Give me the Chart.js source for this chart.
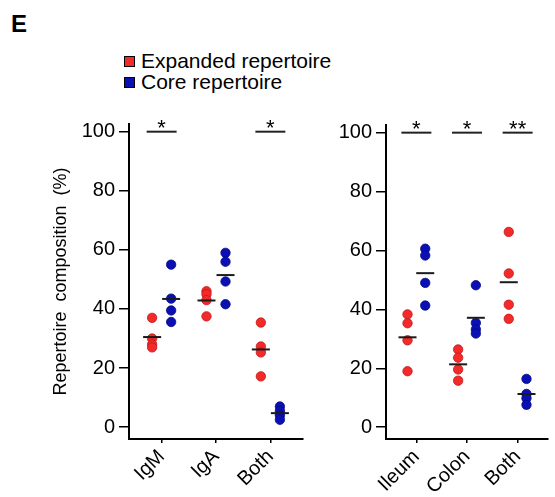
<!DOCTYPE html>
<html>
<head>
<meta charset="utf-8">
<script src="https://cdn.jsdelivr.net/npm/chart.js@4.4.0/dist/chart.umd.min.js"></script>
<style>
  html, body { margin: 0; padding: 0; background: #fff; overflow: hidden; width: 555px; height: 497px; }
  body { position: relative; font-family: "Liberation Sans", Arial, sans-serif; color: #000; }
  #panelLabel { position: absolute; left: 11px; top: 12px; font-size: 24px; font-weight: bold; line-height: 24px; }
  .box { position: absolute; left: 124px; width: 11px; height: 11px; box-sizing: border-box; border: 1px solid #000; }
  .legText { position: absolute; left: 141px; font-size: 21px; line-height: 22px; white-space: nowrap; }
  #leftWrap { position: absolute; left: 0; top: 0; }
  #rightWrap { position: absolute; left: 320px; top: 0; }
</style>
</head>
<body>
<div id="panelLabel">E</div>
<div class="box" style="top:56px; background:#f22a2a;"></div>
<div class="legText" style="top:50px;">Expanded repertoire</div>
<div class="box" style="top:77px; background:#0b10b5;"></div>
<div class="legText" style="top:71px;">Core repertoire</div>

<div id="leftWrap"><canvas id="leftChart" width="320" height="497"></canvas></div>
<div id="rightWrap"><canvas id="rightChart" width="245" height="497"></canvas></div>

<script>
// Data
const leftCategories = ['IgM', 'IgA', 'Both'];
const rightCategories = ['Ileum', 'Colon', 'Both'];

const leftExpanded = [[37, 30, 28, 27], [46, 45, 43, 37.5], [35.4, 27.3, 25.3, 17.2]];
const leftCore = [[55, 43.5, 39.5, 35.6], [59, 56, 49.3, 41.6], [7, 5.5, 4, 2.5]];
const rightExpanded = [[38.3, 35.3, 29.5, 19], [26.4, 23.6, 19.6, 15.8], [66.3, 52.2, 41.6, 36.8]];
const rightCore = [[60.6, 58.3, 49, 41.3], [48.2, 35.4, 33.2, 31.8], [16.4, 11.3, 9.8, 7.6]];

const leftStars = ['*', '', '*'];
const rightStars = ['*', '*', '**'];
const yTicks = [0, 20, 40, 60, 80, 100];

const RED = '#f22a2a';
const BLUE = '#0b10b5';
const FONT = "'Liberation Sans', Arial, sans-serif";

function dots(groups, offset) {
    const pts = [];
    groups.forEach((vals, i) => {
        vals.forEach(v => pts.push({ x: i + offset, y: v }));
    });
    return pts;
}

function means(groups, offset) {
    return groups.map((vals, i) => ({
        x: i + offset,
        y: vals.reduce((a, b) => a + b, 0) / vals.length
    }));
}

// draws the asterisks above the significance bars
const starPlugin = {
    id: 'stars',
    afterDatasetsDraw(chart, args, opts) {
        const ctx = chart.ctx;
        const xs = chart.scales.x;
        const ys = chart.scales.y;
        ctx.save();
        ctx.fillStyle = '#000';
        ctx.font = '22px ' + FONT;
        ctx.textAlign = 'center';
        ctx.textBaseline = 'alphabetic';
        opts.stars.forEach((s, i) => {
            if (s) ctx.fillText(s, xs.getPixelForValue(i), ys.getPixelForValue(100) + 3);
        });
        ctx.restore();
    }
};

function makeChart(id, cats, expanded, core, stars, cfg) {
    const off = 0.175;
    const bars = cats.map((c, i) => ({ x: i, y: 100 })).filter((p, i) => stars[i] !== '');

    return new Chart(document.getElementById(id), {
        type: 'scatter',
        data: {
            datasets: [
                {
                    data: means(expanded, -off).concat(means(core, off)),
                    pointStyle: 'line', pointRadius: 9, borderColor: '#1a1a1a', borderWidth: 2,
                    order: 0
                },
                {
                    data: bars,
                    pointStyle: 'line', pointRadius: 15, borderColor: '#222', borderWidth: 2,
                    order: 0
                },
                {
                    label: 'Expanded repertoire',
                    data: dots(expanded, -off),
                    pointRadius: 4.7, backgroundColor: RED, borderColor: '#c01818', borderWidth: 0.8,
                    order: 1
                },
                {
                    label: 'Core repertoire',
                    data: dots(core, off),
                    pointRadius: 4.7, backgroundColor: BLUE, borderColor: '#050a80', borderWidth: 0.8,
                    order: 1
                }
            ]
        },
        options: {
            responsive: false,
            animation: false,
            events: [],
            layout: { padding: { left: 0, top: cfg.top, right: cfg.right, bottom: 0 } },
            plugins: {
                legend: { display: false },
                tooltip: { enabled: false },
                stars: { stars: stars }
            },
            scales: {
                x: {
                    type: 'linear',
                    min: -0.6,
                    max: 2.6,
                    afterBuildTicks: s => { s.ticks = cats.map((c, i) => ({ value: i })); },
                    afterFit: s => { s.height = 497 - cfg.bottom; },
                    ticks: {
                        callback: v => cats[v],
                        autoSkip: false,
                        minRotation: 45,
                        maxRotation: 45,
                        padding: 2,
                        color: '#000',
                        font: { family: FONT, size: 20 }
                    },
                    grid: { drawOnChartArea: false, drawTicks: true, tickLength: 4, color: '#000', lineWidth: 1.5 },
                    border: { display: true, color: '#000', width: 2 }
                },
                y: {
                    min: -4,
                    max: 102.6,
                    afterBuildTicks: s => { s.ticks = yTicks.map(v => ({ value: v })); },
                    afterFit: s => { s.width = cfg.yWidth; },
                    ticks: {
                        padding: 4,
                        color: '#000',
                        font: { family: FONT, size: 20 }
                    },
                    grid: { drawOnChartArea: false, drawTicks: true, tickLength: 10, color: '#000', lineWidth: 1.5 },
                    border: { display: true, color: '#000', width: 2 },
                    title: {
                        display: cfg.title !== '',
                        text: cfg.title,
                        color: '#000',
                        font: { family: FONT, size: 18 },
                        padding: { top: 50, bottom: 0 }
                    }
                }
            }
        },
        plugins: [starPlugin]
    });
}

makeChart('leftChart', leftCategories, leftExpanded, leftCore, leftStars,
    { top: 124, bottom: 439, right: 12, yWidth: 129, title: 'Repertoire  composition  (%)' });
makeChart('rightChart', rightCategories, rightExpanded, rightCore, rightStars,
    { top: 125, bottom: 439, right: 0, yWidth: 66, title: '' });
</script>
</body>
</html>
